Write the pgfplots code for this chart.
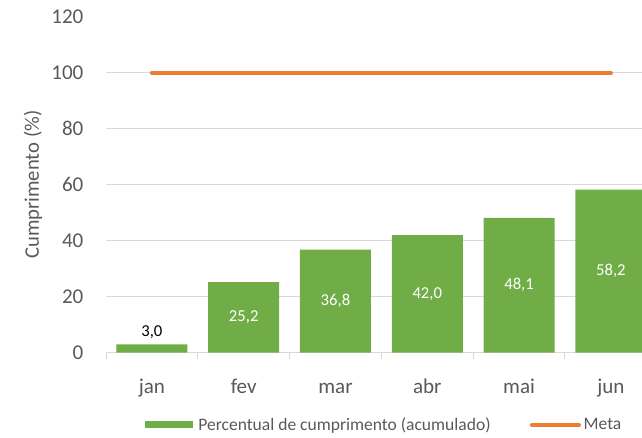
\documentclass[border=0pt]{standalone}
\usepackage{pgfplots}
\pgfplotsset{compat=1.18}
\usepackage{fontspec}
\setmainfont{Carlito}
\definecolor{barg}{HTML}{70AD47}
\definecolor{metao}{HTML}{ED7D31}
\definecolor{txtg}{HTML}{595959}
\definecolor{gridg}{HTML}{D9D9D9}
\begin{document}
\begin{tikzpicture}
\path[use as bounding box] (0,0) rectangle (481.5pt,328.5pt);
\begin{axis}[
  at={(79.5pt,64pt)}, anchor=south west,
  scale only axis, width=402pt, height=252pt,
  xmin=-0.5, xmax=5.339, ymin=0, ymax=120,
  axis x line*=bottom, axis y line*=left,
  x axis line style={draw=gridg, line width=0.75pt, -},
  y axis line style={draw=none},
  xtick={0,1,2,3,4,5},
  xticklabels={jan,fev,mar,abr,mai,jun},
  major x tick style={draw=none},
  minor xtick={-0.5,0.5,1.5,2.5,3.5,4.5},
  minor x tick style={draw=gridg, line width=0.75pt},
  minor tick length=4.5pt,
  tick align=outside,
  ytick={0,20,40,60,80,100},
  extra y ticks={120},
  extra y tick style={grid=none},
  ytick style={draw=none},
  ymajorgrids, grid style={draw=gridg, line width=0.75pt},
  /pgf/number format/assume math mode=true,
  tick label style={font=\fontsize{15.8pt}{18pt}\selectfont, text=txtg},
  yticklabel style={anchor=east, inner sep=0pt, xshift=-12.5pt},
  xticklabel style={anchor=base, inner sep=0pt, yshift=-26.5pt},
  ylabel={Cumprimento (\%)},
  ylabel style={at={(axis description cs:-0.136,0.5)}, anchor=center, rotate=0, font=\fontsize{15.5pt}{18pt}\selectfont, text=txtg},
  legend style={at={(axis description cs:0.0728,-0.215)}, anchor=west, draw=none, fill=none,
    inner sep=0pt, outer sep=0pt, legend columns=2,
    font=\fontsize{13.15pt}{15pt}\selectfont, text=txtg,
    /tikz/every even column/.append style={column sep=27.5pt}},
  legend cell align=left,
  clip=true,
]
\addplot[ybar, bar width=53.25pt, fill=barg, draw=none,
  legend image code/.code={\fill[barg] (0pt,-2.6pt) rectangle (36pt,2.6pt); \path (0pt,0pt) -- (38pt,0pt);}]
  coordinates {(0,3.0) (1,25.2) (2,36.8) (3,42.0) (4,48.1) (5,58.2)};
\addlegendentry{Percentual de cumprimento (acumulado)}
\addplot[metao, line width=3pt, line cap=round,
  legend image code/.code={\draw[metao, line width=3pt, line cap=round] (1.5pt,0pt) -- (36.75pt,0pt);}]
  coordinates {(0,100) (5,100)};
\addlegendentry{Meta}
% data labels centred in bars
\addplot[draw=none, forget plot, nodes near coords, point meta=explicit symbolic,
  nodes near coords style={anchor=center, text=white, font=\fontsize{12.5pt}{15pt}\selectfont}]
  table[meta=label] {
x y label
1 12.6 25,2
2 18.4 36,8
3 21.0 42,0
4 24.05 48,1
5 29.1 58,2
};
\addplot[draw=none, forget plot, nodes near coords, point meta=explicit symbolic,
  nodes near coords style={anchor=base, yshift=5.7pt, inner sep=0pt, text=black, font=\fontsize{12.5pt}{15pt}\selectfont}]
  table[meta=label] {
x y label
0 3.0 3,0
};
\end{axis}
\end{tikzpicture}
\end{document}
